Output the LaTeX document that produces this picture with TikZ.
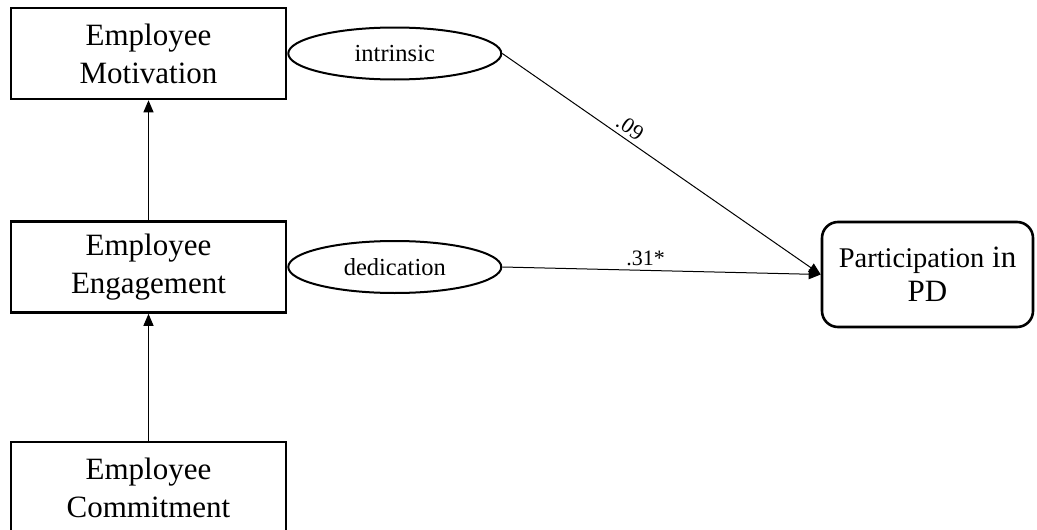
\documentclass[tikz,border=0pt]{standalone}
\usepackage{fontspec}
\setmainfont{Liberation Serif}
\usetikzlibrary{positioning,shapes.geometric,arrows.meta}

\begin{document}
\begin{tikzpicture}[x=1pt,y=-1pt,
        box/.style={draw,line width=2.6pt,minimum width=275pt,minimum height=91pt,align=center,font=\fontsize{31}{38}\selectfont},
        facet/.style={draw,ellipse,line width=2pt,minimum width=213pt,minimum height=52pt,inner sep=0pt,font=\fontsize{24.5}{28}\selectfont},
        outcome/.style={draw,rounded corners=16pt,line width=2.6pt,minimum width=211pt,minimum height=105pt,align=center,font=\fontsize{31}{34}\selectfont},
        link/.style={-{Triangle[length=12pt,width=10pt]},line width=1pt},
        coef/.style={font=\fontsize{22}{24}\selectfont,inner sep=4pt}]

    \useasboundingbox (0,0) rectangle (1037,530);

    \node[box] (mot) at (148.5,53.5) {Employee\\Motivation};
    \node[box] (eng) at (148.5,267) {Employee\\Engagement};
    \node[box] (com) at (148.5,487.5) {Employee\\Commitment};

    \node[facet,right=0pt of mot] (intr) {intrinsic};
    \node[facet,right=0pt of eng] (ded) {dedication};

    \node[outcome] (part) at (927.5,274.5) {{\fontsize{28.5}{33}\selectfont Participation} in\\PD};

    \draw[link] (eng) -- (mot);
    \draw[link] (com) -- (eng);
    \draw[link] (intr.east) -- (part.west) node[coef,pos=.38,above,sloped] {.09};
    \draw[link] (ded.east) -- (part.west) node[coef,pos=.45,above] {.31*};
\end{tikzpicture}
\end{document}
